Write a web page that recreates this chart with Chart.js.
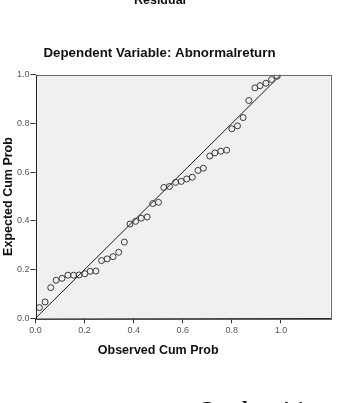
<!DOCTYPE html>
<html>
<head>
<meta charset="utf-8">
<script src="https://cdn.jsdelivr.net/npm/chart.js@4"></script>
<style>
html,body{margin:0;padding:0;background:#fff;}
#wrap{position:relative;width:337px;height:403px;}
</style>
</head>
<body>
<div id="wrap"><canvas id="c" width="337" height="403"></canvas></div>
<script>
const observedCumProb = [0.016,0.039,0.062,0.084,0.108,0.132,0.155,0.178,0.201,0.223,0.246,0.269,0.292,0.316,0.339,0.362,0.385,0.408,0.431,0.455,0.478,0.501,0.523,0.546,0.571,0.594,0.616,0.639,0.662,0.684,0.710,0.731,0.755,0.779,0.800,0.823,0.846,0.869,0.894,0.915,0.939,0.962,0.985];
const expectedCumProb = [0.044,0.067,0.126,0.156,0.164,0.177,0.177,0.178,0.183,0.193,0.194,0.237,0.244,0.253,0.271,0.313,0.387,0.398,0.411,0.416,0.471,0.476,0.537,0.541,0.558,0.562,0.572,0.579,0.607,0.616,0.666,0.679,0.686,0.690,0.778,0.790,0.824,0.894,0.946,0.955,0.965,0.980,0.994];
const refLineX = [0, 1];
const refLineY = [0, 1];
const tickValues = [0.0, 0.2, 0.4, 0.6, 0.8, 1.0];
const topTitle = "Residual";
const subTitle = "Dependent Variable: Abnormalreturn";
const xTitle = "Observed Cum Prob";
const yTitle = "Expected Cum Prob";
const captionText = "Gambar 4.1";

const points = observedCumProb.map((x, i) => ({x: x, y: expectedCumProb[i]}));
const linePts = refLineX.map((x, i) => ({x: x, y: refLineY[i]}));

const boxPlugin = {
  id: 'box',
  beforeDatasetsDraw(chart) {
    const {ctx, chartArea: a} = chart;
    ctx.save();
    ctx.fillStyle = '#f0f0f0';
    ctx.fillRect(a.left, a.top, a.right - a.left, a.bottom - a.top);
    ctx.restore();
  },
  afterDatasetsDraw(chart) {
    const {ctx, chartArea: a} = chart;
    ctx.save();
    ctx.strokeStyle = '#6a6a6a';
    ctx.lineWidth = 1;
    ctx.strokeRect(Math.round(a.left) + 0.5, Math.round(a.top) + 0.5, Math.round(a.right - a.left), Math.round(a.bottom - a.top));
    ctx.strokeStyle = '#222';
    ctx.beginPath();
    ctx.moveTo(Math.round(a.left) + 0.5, Math.round(a.top));
    ctx.lineTo(Math.round(a.left) + 0.5, Math.round(a.bottom) + 1);
    ctx.lineTo(Math.round(a.right) + 1, Math.round(a.bottom) + 0.5);
    ctx.stroke();
    ctx.restore();
  },
  afterDraw(chart) {
    const {ctx} = chart;
    const xs = chart.scales.x;
    ctx.save();
    ctx.fillStyle = '#111';
    ctx.textAlign = 'center';
    ctx.textBaseline = 'alphabetic';
    ctx.font = 'bold 12.5px "Liberation Sans", Arial, sans-serif';
    ctx.fillText(topTitle, 160, 4);
    ctx.font = 'bold 13.3px "Liberation Sans", Arial, sans-serif';
    ctx.fillText(subTitle, 159.5, 57.3);
    ctx.font = 'bold 12.5px "Liberation Sans", Arial, sans-serif';
    ctx.textBaseline = 'middle';
    ctx.fillText(xTitle, (xs.getPixelForValue(0) + xs.getPixelForValue(1)) / 2, 351);
    ctx.textBaseline = 'alphabetic';
    ctx.textAlign = 'left';
    ctx.font = 'bold 21px "Liberation Serif", "Times New Roman", serif';
    ctx.fillText(captionText, 198, 416);
    ctx.restore();
  }
};

new Chart(document.getElementById('c'), {
  type: 'scatter',
  data: {
    datasets: [
      {
        data: points,
        showLine: false,
        pointRadius: 3,
        pointBorderWidth: 1,
        pointBorderColor: '#3a3a3a',
        pointBackgroundColor: 'rgba(0,0,0,0)',
        order: 1
      },
      {
        data: linePts,
        showLine: true,
        borderColor: '#1a1a1a',
        borderWidth: 1,
        pointRadius: 0,
        order: 2
      }
    ]
  },
  options: {
    responsive: false,
    animation: false,
    devicePixelRatio: 1,
    layout: {padding: {left: 0, right: 7, top: 74.7, bottom: 0}},
    plugins: {legend: {display: false}, tooltip: {enabled: false}, title: {display: false}},
    scales: {
      x: {
        type: 'linear', min: 0, max: 1.2,
        afterBuildTicks(s) { s.ticks = tickValues.map(v => ({value: v})); },
        afterFit(s) { s.height = 403 - 318.3; },
        grid: {drawOnChartArea: false, drawTicks: true, tickLength: 5, color: '#333', tickWidth: 1},
        border: {display: false},
        ticks: {
          padding: 2, color: '#555',
          font: {family: '"Liberation Sans", Arial, sans-serif', size: 9},
          maxRotation: 0, autoSkip: false,
          callback: v => Number(v).toFixed(1)
        },
        title: {display: false}
      },
      y: {
        type: 'linear', min: 0, max: 1.0,
        afterBuildTicks(s) { s.ticks = tickValues.map(v => ({value: v})); },
        afterFit(s) { s.width = 35.5; },
        grid: {drawOnChartArea: false, drawTicks: true, tickLength: 5, color: '#333', tickWidth: 1},
        border: {display: false},
        ticks: {
          padding: 1, color: '#555',
          font: {family: '"Liberation Sans", Arial, sans-serif', size: 9},
          autoSkip: false,
          callback: v => Number(v).toFixed(1)
        },
        title: {display: true, text: yTitle, color: '#111',
          font: {family: '"Liberation Sans", Arial, sans-serif', size: 12.5, weight: 'bold'},
          padding: {top: 1.5, bottom: 0}}
      }
    }
  },
  plugins: [boxPlugin]
});
</script>
</body>
</html>
